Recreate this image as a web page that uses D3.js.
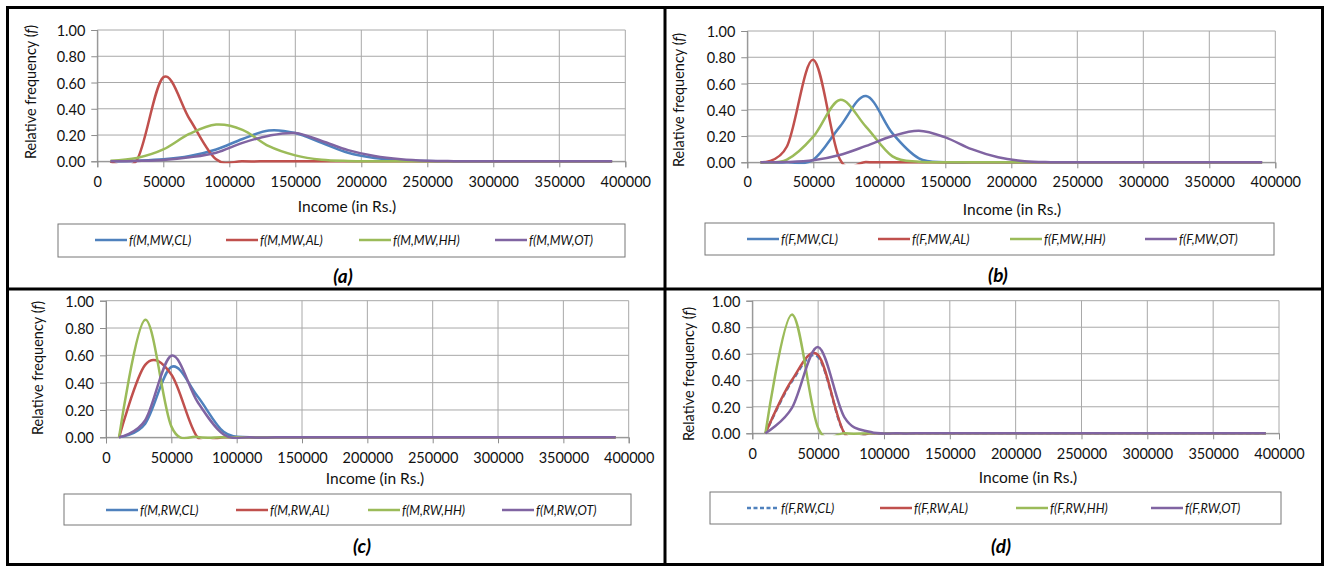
<!DOCTYPE html>
<html><head><meta charset="utf-8">
<script src="https://cdn.jsdelivr.net/npm/d3@7"></script>
<style>body{margin:0;background:#fff}svg{display:block}</style>
</head><body>
<svg id="chart" width="1326" height="567"></svg>
<script>
// ---------- DATA ----------
const incomes = [10000, 30000, 50000, 70000, 90000, 110000, 130000, 150000, 170000, 190000,
                 210000, 230000, 250000, 270000, 290000, 310000, 330000, 350000, 370000, 390000];
const xTickValues = [0, 50000, 100000, 150000, 200000, 250000, 300000, 350000, 400000];
const yTickValues = [0, 0.2, 0.4, 0.6, 0.8, 1.0];

// (a) Male, MW
const aCL = [0, 0.005, 0.015, 0.04, 0.09, 0.17, 0.235, 0.215, 0.14, 0.065, 0.025, 0.008, 0.002, 0, 0, 0, 0, 0, 0, 0];
const aAL = [0, 0.01, 0.64, 0.32, 0.015, 0, 0, 0, 0, 0, 0, 0, 0, 0, 0, 0, 0, 0, 0, 0];
const aHH = [0.005, 0.025, 0.09, 0.21, 0.28, 0.24, 0.115, 0.045, 0.012, 0.003, 0.001, 0, 0, 0, 0, 0, 0, 0, 0, 0];
const aOT = [0, 0.003, 0.01, 0.03, 0.065, 0.14, 0.195, 0.215, 0.155, 0.085, 0.04, 0.015, 0.004, 0.001, 0, 0, 0, 0, 0, 0];
// (b) Female, MW
const bCL = [0, 0, 0.02, 0.27, 0.505, 0.22, 0.03, 0, 0, 0, 0, 0, 0, 0, 0, 0, 0, 0, 0, 0];
const bAL = [0, 0.12, 0.78, 0.025, 0.003, 0, 0, 0, 0, 0, 0, 0, 0, 0, 0, 0, 0, 0, 0, 0];
const bHH = [0, 0.02, 0.195, 0.475, 0.27, 0.045, 0.005, 0, 0, 0, 0, 0, 0, 0, 0, 0, 0, 0, 0, 0];
const bOT = [0, 0.002, 0.015, 0.055, 0.125, 0.2, 0.24, 0.19, 0.1, 0.038, 0.008, 0.001, 0, 0, 0, 0, 0, 0, 0, 0];
// (c) Male, RW
const cCL = [0, 0.1, 0.515, 0.3, 0.04, 0, 0, 0, 0, 0, 0, 0, 0, 0, 0, 0, 0, 0, 0, 0];
const cAL = [0, 0.53, 0.46, 0, 0, 0, 0, 0, 0, 0, 0, 0, 0, 0, 0, 0, 0, 0, 0, 0];
const cHH = [0, 0.86, 0.08, 0.002, 0, 0, 0, 0, 0, 0, 0, 0, 0, 0, 0, 0, 0, 0, 0, 0];
const cOT = [0, 0.125, 0.597, 0.26, 0.02, 0, 0, 0, 0, 0, 0, 0, 0, 0, 0, 0, 0, 0, 0, 0];
// (d) Female, RW
const dCL = [0, 0.39, 0.575, 0, 0, 0, 0, 0, 0, 0, 0, 0, 0, 0, 0, 0, 0, 0, 0, 0];
const dAL = [0, 0.4, 0.59, 0, 0, 0, 0, 0, 0, 0, 0, 0, 0, 0, 0, 0, 0, 0, 0, 0];
const dHH = [0, 0.895, 0.04, 0, 0, 0, 0, 0, 0, 0, 0, 0, 0, 0, 0, 0, 0, 0, 0, 0];
const dOT = [0, 0.19, 0.65, 0.12, 0.01, 0, 0, 0, 0, 0, 0, 0, 0, 0, 0, 0, 0, 0, 0, 0];

const legendA = ["f(M,MW,CL)", "f(M,MW,AL)", "f(M,MW,HH)", "f(M,MW,OT)"];
const legendB = ["f(F,MW,CL)", "f(F,MW,AL)", "f(F,MW,HH)", "f(F,MW,OT)"];
const legendC = ["f(M,RW,CL)", "f(M,RW,AL)", "f(M,RW,HH)", "f(M,RW,OT)"];
const legendD = ["f(F,RW,CL)", "f(F,RW,AL)", "f(F,RW,HH)", "f(F,RW,OT)"];
const captions = ["(a)", "(b)", "(c)", "(d)"];
const xAxisTitle = "Income (in Rs.)";

// ---------- STYLE / LAYOUT ----------
const colors = ["#4F81BD", "#C0504D", "#9BBB59", "#8064A2"];
const font = "Lato, 'Open Sans', 'Liberation Sans', sans-serif";
const gridColor = "#a8a8a8";

const panels = [
  { series: [aCL, aAL, aHH, aOT], legend: legendA, caption: captions[0], dashed: [false,false,false,false],
    x0: 97.3, x1: 625.3, yTop: 30, yBot: 161.3, tickY: 182, titleX: 347, titleY: 206, yTitleX: 30, yTitleY: 92,
    box: [58, 224, 567, 33], legX: [95, 226, 359, 495], legY: 240, capX: 343, capY: 275 },
  { series: [bCL, bAL, bHH, bOT], legend: legendB, caption: captions[1], dashed: [false,false,false,false],
    x0: 747.3, x1: 1275.3, yTop: 31, yBot: 162.3, tickY: 182, titleX: 1012, titleY: 209, yTitleX: 678, yTitleY: 100,
    box: [705, 223, 569, 32], legX: [747, 878, 1010, 1145], legY: 239, capX: 998, capY: 274 },
  { series: [cCL, cAL, cHH, cOT], legend: legendC, caption: captions[2], dashed: [false,false,false,false],
    x0: 106, x1: 628.7, yTop: 300.7, yBot: 437.3, tickY: 458, titleX: 375, titleY: 478, yTitleX: 37, yTitleY: 368,
    box: [64, 494, 567, 31], legX: [106, 236, 368, 502], legY: 510, capX: 362, capY: 545 },
  { series: [dCL, dAL, dHH, dOT], legend: legendD, caption: captions[3], dashed: [true,false,false,false],
    x0: 752.3, x1: 1279, yTop: 300.7, yBot: 433.3, tickY: 454, titleX: 1028, titleY: 477, yTitleX: 688, yTitleY: 374,
    box: [710, 492, 571, 32], legX: [747, 880, 1016, 1151], legY: 508, capX: 1001, capY: 545 }
];

const svg = d3.select("#chart");
svg.append("rect").attr("width", 1326).attr("height", 567).attr("fill", "#fff");

panels.forEach((p, pi) => {
  const x = d3.scaleLinear().domain([0, 400000]).range([p.x0, p.x1]);
  const y = d3.scaleLinear().domain([0, 1]).range([p.yBot, p.yTop]);
  const g = svg.append("g");

  // gridlines
  g.selectAll(".hg").data(yTickValues).join("line")
    .attr("x1", p.x0).attr("x2", p.x1).attr("y1", d => y(d)).attr("y2", d => y(d))
    .attr("stroke", gridColor).attr("stroke-width", 1);
  g.selectAll(".vg").data(xTickValues).join("line")
    .attr("y1", p.yTop).attr("y2", p.yBot).attr("x1", d => x(d)).attr("x2", d => x(d))
    .attr("stroke", gridColor).attr("stroke-width", 1);

  // axes
  const yAxis = d3.axisLeft(y).tickValues(yTickValues).tickFormat(d3.format(".2f")).tickSize(6).tickPadding(6);
  const xAxis = d3.axisBottom(x).tickValues(xTickValues).tickFormat(d3.format("d")).tickSize(6).tickPadding(6);
  const ya = g.append("g").attr("transform", `translate(${p.x0},0)`).call(yAxis);
  const xa = g.append("g").attr("transform", `translate(0,${p.yBot})`).call(xAxis);
  [ya, xa].forEach(a => {
    a.select(".domain").attr("stroke", "#8c8c8c");
    a.selectAll(".tick line").attr("stroke", "#8c8c8c");
    a.selectAll("text").attr("font-family", font).attr("font-size", 14.5).attr("fill", "#111");
  });
  xa.selectAll("text").attr("dy", null).attr("y", p.tickY - p.yBot).attr("dominant-baseline", "central");
  ya.selectAll("text").attr("dy", null).attr("dominant-baseline", "central");

  // axis titles
  g.append("text").attr("x", p.titleX).attr("y", p.titleY).attr("text-anchor", "middle")
    .attr("dominant-baseline", "central").attr("font-family", font).attr("font-size", 15.5).attr("fill", "#111")
    .text(xAxisTitle);
  const yt = g.append("text").attr("transform", `translate(${p.yTitleX},${p.yTitleY}) rotate(-90)`)
    .attr("text-anchor", "middle").attr("dominant-baseline", "central")
    .attr("font-family", font).attr("font-size", 14.5).attr("fill", "#111");
  yt.append("tspan").text("Relative frequency (");
  yt.append("tspan").attr("font-style", "italic").text("f");
  yt.append("tspan").text(")");

  // curves
  const clipId = "clip" + pi;
  svg.append("clipPath").attr("id", clipId).append("rect")
    .attr("x", p.x0).attr("y", p.yTop - 3).attr("width", p.x1 - p.x0).attr("height", p.yBot - p.yTop + 5);
  const line = d3.line().x((d, i) => x(incomes[i])).y(d => y(d)).curve(d3.curveCardinal.tension(0));
  const lg = g.append("g").attr("clip-path", `url(#${clipId})`);
  p.series.forEach((s, si) => {
    lg.append("path").datum(s).attr("d", line).attr("fill", "none")
      .attr("stroke", colors[si]).attr("stroke-width", 2.5).attr("stroke-linejoin", "round")
      .attr("stroke-dasharray", p.dashed[si] ? "5,3" : null);
  });

  // legend
  g.append("rect").attr("x", p.box[0]).attr("y", p.box[1]).attr("width", p.box[2]).attr("height", p.box[3])
    .attr("fill", "none").attr("stroke", "#777").attr("stroke-width", 1);
  p.legend.forEach((name, i) => {
    g.append("line").attr("x1", p.legX[i]).attr("x2", p.legX[i] + 32).attr("y1", p.legY).attr("y2", p.legY)
      .attr("stroke", colors[i]).attr("stroke-width", 2.5)
      .attr("stroke-dasharray", p.dashed[i] ? "4,2.5" : null);
    g.append("text").attr("x", p.legX[i] + 34).attr("y", p.legY).attr("dominant-baseline", "central")
      .attr("font-family", font).attr("font-size", 12.5).attr("font-style", "italic").attr("fill", "#111")
      .text(name);
  });

  // caption
  g.append("text").attr("x", p.capX).attr("y", p.capY).attr("text-anchor", "middle").attr("dominant-baseline", "central")
    .attr("font-family", font).attr("font-size", 19).attr("font-weight", "bold").attr("font-style", "italic")
    .attr("fill", "#000").text(p.caption);
});

// panel frame
const frame = svg.append("g").attr("stroke", "#000").attr("stroke-width", 3).attr("fill", "none");
frame.append("rect").attr("x", 7.5).attr("y", 7.5).attr("width", 1315).attr("height", 557);
frame.append("line").attr("x1", 665).attr("x2", 665).attr("y1", 7.5).attr("y2", 564.5);
frame.append("line").attr("x1", 7.5).attr("x2", 1322.5).attr("y1", 289).attr("y2", 289);
</script>
</body></html>
